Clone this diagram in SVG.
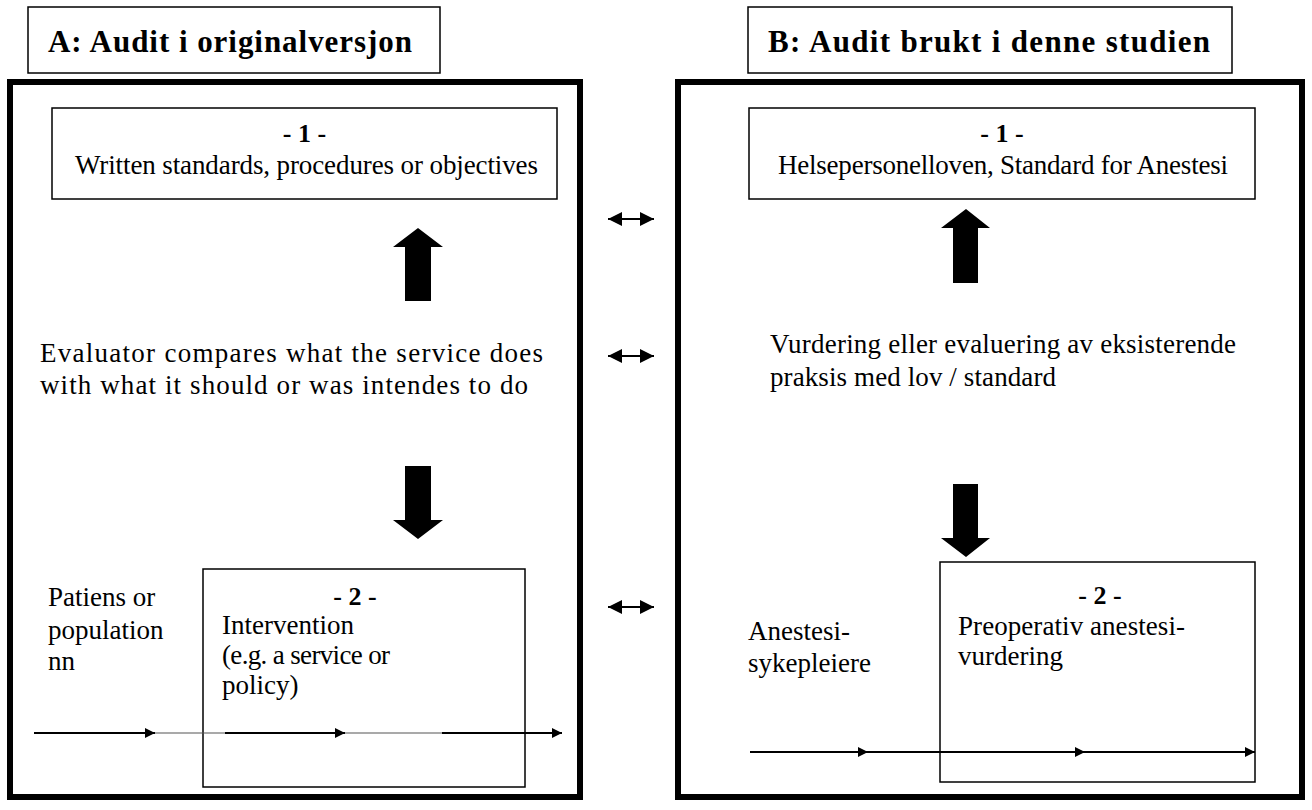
<svg xmlns="http://www.w3.org/2000/svg" width="1312" height="810" viewBox="0 0 1312 810">
<style>
.t{font-family:"Liberation Serif","Times New Roman",Tinos,Times,"Nimbus Roman","DejaVu Serif",serif;fill:#000}
.title{font-size:31px;font-weight:bold}
.body{font-size:27px}
.num{font-size:26px;font-weight:bold}
.thin{fill:#fff;stroke:#000;stroke-width:1.5}
.frame{fill:none;stroke:#000;stroke-width:6}
.flow{stroke:#000;stroke-width:2;fill:none}
.flowthin{stroke:#555;stroke-width:1.2;fill:none}
.dbl{stroke:#000;stroke-width:2;fill:none}
</style>
<defs>
<marker id="ah" viewBox="0 0 10 10" refX="10" refY="5" markerWidth="14" markerHeight="10" markerUnits="userSpaceOnUse" orient="auto"><path d="M0,0 L10,5 L0,10 z" fill="#000"/></marker>
<marker id="dh" viewBox="0 0 10 10" refX="10" refY="5" markerWidth="16" markerHeight="14" markerUnits="userSpaceOnUse" orient="auto-start-reverse"><path d="M0,0 L10,5 L0,10 z" fill="#000"/></marker>
</defs>
<rect width="1312" height="810" fill="#fff"/>

<g id="titleA"><rect class="thin" x="28" y="7" width="412" height="66"/><text class="t title" x="48" y="52" textLength="364" lengthAdjust="spacing">A:  Audit i originalversjon</text></g>
<g id="titleB"><rect class="thin" x="748" y="7" width="484" height="66"/><text class="t title" x="768" y="52" textLength="442" lengthAdjust="spacing">B:  Audit brukt i denne studien</text></g>

<g id="frameA"><rect class="frame" x="10" y="82" width="570" height="715"/></g>
<g id="frameB"><rect class="frame" x="678" y="82" width="624" height="715"/></g>

<g id="A1"><rect class="thin" x="52" y="108" width="505" height="91"/>
<text class="t num" x="304.5" y="142" text-anchor="middle">- 1 -</text>
<text class="t body" x="75" y="174" textLength="463" lengthAdjust="spacing">Written standards, procedures or objectives</text></g>

<g id="B1"><rect class="thin" x="749" y="108" width="506" height="91"/>
<text class="t num" x="1002" y="142" text-anchor="middle">- 1 -</text>
<text class="t body" x="778" y="174" textLength="450" lengthAdjust="spacing">Helsepersonelloven, Standard for Anestesi</text></g>

<g id="evalA"><text class="t body" x="40" y="362" textLength="503" lengthAdjust="spacing">Evaluator compares what the service does</text>
<text class="t body" x="40" y="394" textLength="488" lengthAdjust="spacing">with what it should or was intendes to do</text></g>

<g id="evalB"><text class="t body" x="770" y="353" textLength="466" lengthAdjust="spacing">Vurdering eller evaluering av eksisterende</text>
<text class="t body" x="770" y="386" textLength="286" lengthAdjust="spacing">praksis med lov / standard</text></g>

<g id="popA"><text class="t body" x="48" y="606">Patiens or</text>
<text class="t body" x="48" y="639">population</text>
<text class="t body" x="48" y="670">nn</text></g>

<g id="A2"><rect class="thin" x="203" y="569" width="322" height="218"/>
<text class="t num" x="355" y="605" text-anchor="middle">- 2 -</text>
<text class="t body" x="222" y="634">Intervention</text>
<text class="t body" x="222" y="664" textLength="168" lengthAdjust="spacing">(e.g. a service or</text>
<text class="t body" x="222" y="694">policy)</text></g>

<g id="popB"><text class="t body" x="748" y="640">Anestesi-</text>
<text class="t body" x="748" y="672">sykepleiere</text></g>

<g id="B2"><rect class="thin" x="940" y="562" width="315" height="220"/>
<text class="t num" x="1100" y="604" text-anchor="middle">- 2 -</text>
<text class="t body" x="958" y="635" textLength="227" lengthAdjust="spacing">Preoperativ anestesi-</text>
<text class="t body" x="958" y="665">vurdering</text></g>

<g id="connectors">
<polygon points="418,228 443,247 431,247 431,301 405,301 405,247 393,247" fill="#000"/>
<polygon points="418,539 443,520 431,520 431,466 405,466 405,520 393,520" fill="#000"/>
<polygon points="966,209 990,228 978,228 978,283 953,283 953,228 941,228" fill="#000"/>
<polygon points="966,557 990,538 978,538 978,484 953,484 953,538 941,538" fill="#000"/>
<line class="dbl" x1="608" y1="219" x2="654" y2="219" marker-start="url(#dh)" marker-end="url(#dh)"/>
<line class="dbl" x1="608" y1="356" x2="654" y2="356" marker-start="url(#dh)" marker-end="url(#dh)"/>
<line class="dbl" x1="608" y1="607" x2="654" y2="607" marker-start="url(#dh)" marker-end="url(#dh)"/>
<line class="flowthin" x1="155" y1="733" x2="562" y2="733"/>
<line class="flow" x1="34" y1="733" x2="155" y2="733" marker-end="url(#ah)"/>
<line class="flow" x1="225" y1="733" x2="345" y2="733" marker-end="url(#ah)"/>
<line class="flow" x1="442" y1="733" x2="562" y2="733" marker-end="url(#ah)"/>
<line class="flow" x1="750" y1="752" x2="1255" y2="752"/>
<line class="flow" x1="750" y1="752" x2="868" y2="752" marker-end="url(#ah)"/>
<line class="flow" x1="960" y1="752" x2="1085" y2="752" marker-end="url(#ah)"/>
<line class="flow" x1="1140" y1="752" x2="1255" y2="752" marker-end="url(#ah)"/>
</g>
</svg>
